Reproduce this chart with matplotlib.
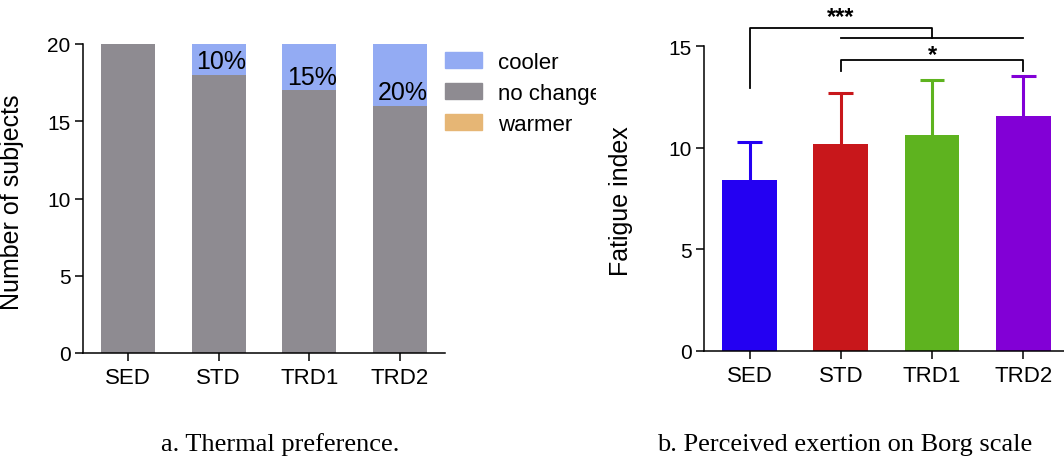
import matplotlib
matplotlib.use("Agg")
from matplotlib import pyplot as plt
from matplotlib.patches import Patch
from matplotlib.transforms import Bbox
import numpy as np

# Datos
grupos = ["SED", "STD", "TRD1", "TRD2"]

# a. Preferencia termica (numero de sujetos)
enfriar = [0, 2, 3, 4]
sin_cambio = [20, 18, 17, 16]
calentar = [0, 0, 0, 0]
porcentajes = ["", "10%", "15%", "20%"]

# b. Escala de Borg (media y desviacion)
fatiga_media = [8.43, 10.19, 10.63, 11.58]
fatiga_sd = [1.87, 2.50, 2.73, 1.97]

col_enfriar = "#93abf3"
col_sin_cambio = "#8e8b91"
col_calentar = "#e6b675"
col_grupos = ["#2400f2", "#c8171b", "#5eb31f", "#8200d6"]

plt.rcParams["font.family"] = ["Liberation Sans", "DejaVu Sans"]

fig = plt.figure(figsize=(10.64, 4.6), dpi=100)
W, H = 1064, 460


def ejes(izq, der, arriba, abajo):
    return fig.add_axes([izq / W, 1 - abajo / H, (der - izq) / W, (abajo - arriba) / H])


def estilo(ax):
    for lado in ["top", "right"]:
        ax.spines[lado].set_visible(False)
    for lado in ["left", "bottom"]:
        ax.spines[lado].set_linewidth(1.1)
    ax.tick_params(axis="both", width=1.1, length=6, color="black")
    ax.tick_params(axis="y", labelsize=15, pad=3)
    ax.tick_params(axis="x", labelsize=16, pad=4)


x = np.arange(len(grupos))

# ---- a. Thermal preference
ax1 = ejes(83, 445, 45, 354)
ax1.bar(x, sin_cambio, width=0.6, color=col_sin_cambio)
ax1.bar(x, enfriar, width=0.6, bottom=sin_cambio, color=col_enfriar)
ax1.bar(x, calentar, width=0.6, bottom=np.add(sin_cambio, enfriar), color=col_calentar)
for xi, base, txt in zip(x, sin_cambio, porcentajes):
    if txt:
        ax1.text(xi + 0.03, base + 0.1, txt, ha="center", va="bottom", fontsize=18)
ax1.set_xlim(-0.5, 3.5)
ax1.set_ylim(0, 20)
ax1.set_yticks([0, 5, 10, 15, 20])
ax1.set_xticks(x)
ax1.set_xticklabels(grupos)
ax1.set_ylabel("Number of subjects", fontsize=18)
ax1.yaxis.set_label_coords(-0.164, 0.49)
estilo(ax1)

manejadores = [Patch(color=col_enfriar), Patch(color=col_sin_cambio), Patch(color=col_calentar)]
leg = ax1.legend(manejadores, ["cooler", "no change", "warmer"], loc="upper left",
                 bbox_to_anchor=(1.0, 0.975), frameon=False, fontsize=16,
                 handlelength=1.67, handleheight=0.68, labelspacing=0.45,
                 handletextpad=0.72, borderpad=0, borderaxespad=0)
corte = Bbox.from_extents(0, 0, 596, H)
for t in leg.get_texts():
    t.set_clip_on(True)
    t.set_clip_box(corte)

# ---- b. Borg scale
ax2 = ejes(704, 1064, 47.3, 351.7)
ax2.bar(x, fatiga_media, width=0.6, color=col_grupos)
tope = np.add(fatiga_media, fatiga_sd)
for xi, m, t, c in zip(x, fatiga_media, tope, col_grupos):
    ax2.vlines(xi, m, t, color=c, linewidth=2.2)
    ax2.hlines(t, xi - 0.135, xi + 0.135, color=c, linewidth=2.2)
ax2.set_xlim(-0.5, 3.447)
ax2.set_ylim(0, 15)
ax2.set_yticks([0, 5, 10, 15])
ax2.set_xticks(x)
ax2.set_xticklabels(grupos)
ax2.set_ylabel("Fatigue index", fontsize=18)
ax2.yaxis.set_label_coords(-0.197, 0.495)
estilo(ax2)

# Comparaciones
lk = dict(color="black", linewidth=1.3, clip_on=False)
ax2.plot([0, 0, 2, 2], [12.93, 15.89, 15.89, 15.43], **lk)
ax2.plot([1, 3], [15.43, 15.43], **lk)
ax2.text(1, 16.45, "***", ha="center", va="center", fontsize=17, fontweight="bold", clip_on=False)
ax2.plot([1, 1, 3, 3], [13.8, 14.31, 14.31, 13.8], **lk)
ax2.text(2, 14.6, "*", ha="center", va="center", fontsize=17, fontweight="bold", clip_on=False)

# Pies de figura
fig.text(280 / W, 1 - 445 / H, "a. Thermal preference.", ha="center", va="center",
         fontsize=19, family="Liberation Serif")
fig.text(845 / W, 1 - 445 / H, "b. Perceived exertion on Borg scale", ha="center", va="center",
         fontsize=19, family="Liberation Serif")

fig.savefig("out.png", dpi=100)
